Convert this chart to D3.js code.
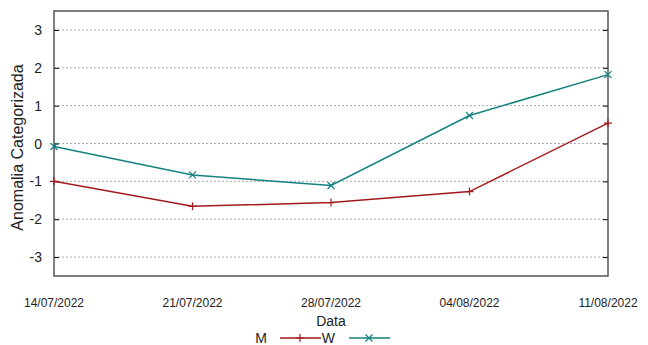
<!DOCTYPE html>
<html>
<head>
<meta charset="utf-8">
<script src="https://cdn.jsdelivr.net/npm/d3@7"></script>
<style>
  body { margin: 0; background: #fff; }
  svg { font-family: "Liberation Sans", Arial, sans-serif; }
</style>
</head>
<body>
<svg id="chart" width="648" height="345"></svg>
<script>
// datas e valores
const datas = ["14/07/2022", "21/07/2022", "28/07/2022", "04/08/2022", "11/08/2022"]
const valoresM = [-1.0, -1.66, -1.56, -1.27, 0.54]
const valoresW = [-0.08, -0.83, -1.11, 0.74, 1.82]
const yTicks = [-3, -2, -1, 0, 1, 2, 3]

const corM = "#a31a1e"
const corW = "#138080"

let svg = d3.select("#chart")

let margin = { top: 11, right: 40, bottom: 69, left: 54 }
let width = 648, height = 345
let x = d3.scalePoint().domain(datas).range([margin.left, width - margin.right])
let y = d3.scaleLinear().domain([-3.5, 3.5]).range([height - margin.bottom, margin.top])

// grade pontilhada
svg.append("g")
  .selectAll("line")
  .data(yTicks)
  .enter().append("line")
  .attr("x1", margin.left).attr("x2", width - margin.right)
  .attr("y1", d => y(d)).attr("y2", d => y(d))
  .attr("stroke", "#aaa")
  .attr("stroke-width", 1)
  .attr("stroke-dasharray", "2,2")

// eixo y com ticks para dentro
let yAxis = svg.append("g")
  .attr("transform", `translate(${margin.left},0)`)
  .call(d3.axisRight(y).tickValues(yTicks).tickSize(5).tickFormat(""))
yAxis.select(".domain").remove()
let yAxisR = svg.append("g")
  .attr("transform", `translate(${width - margin.right},0)`)
  .call(d3.axisLeft(y).tickValues(yTicks).tickSize(5).tickFormat(""))
yAxisR.select(".domain").remove()

svg.append("g")
  .selectAll("text")
  .data(yTicks)
  .enter().append("text")
  .attr("x", 42)
  .attr("y", d => y(d))
  .attr("dy", "0.36em")
  .attr("text-anchor", "end")
  .attr("font-size", 14)
  .attr("fill", "#222")
  .text(d => d)

// moldura
svg.append("rect")
  .attr("x", margin.left).attr("y", margin.top)
  .attr("width", width - margin.left - margin.right)
  .attr("height", height - margin.top - margin.bottom)
  .attr("fill", "none")
  .attr("stroke", "#555")
  .attr("stroke-width", 1.5)

// rotulos do eixo x
svg.append("g")
  .selectAll("text")
  .data(datas)
  .enter().append("text")
  .attr("x", d => x(d))
  .attr("y", 307)
  .attr("text-anchor", "middle")
  .attr("font-size", 12)
  .attr("fill", "#222")
  .text(d => d)

svg.append("text")
  .attr("x", (margin.left + width - margin.right) / 2)
  .attr("y", 326)
  .attr("text-anchor", "middle")
  .attr("font-size", 14)
  .attr("fill", "#222")
  .text("Data")

svg.append("text")
  .attr("transform", `translate(23,${y(0) + 4}) rotate(-90)`)
  .attr("text-anchor", "middle")
  .attr("font-size", 16)
  .attr("fill", "#222")
  .text("Anomalia Categorizada")

// linhas
let line = d3.line()
  .x((d, i) => x(datas[i]))
  .y(d => y(d))

function plusMark(g, px, py, cor) {
  g.append("path")
    .attr("d", `M${px - 4},${py}H${px + 4}M${px},${py - 4}V${py + 4}`)
    .attr("stroke", cor).attr("stroke-width", 1.2)
}
function crossMark(g, px, py, cor) {
  g.append("path")
    .attr("d", `M${px - 3.5},${py - 3.5}L${px + 3.5},${py + 3.5}M${px - 3.5},${py + 3.5}L${px + 3.5},${py - 3.5}`)
    .attr("stroke", cor).attr("stroke-width", 1.2)
}

let gM = svg.append("g")
gM.append("path")
  .datum(valoresM)
  .attr("d", line)
  .attr("fill", "none")
  .attr("stroke", corM)
  .attr("stroke-width", 1.5)
valoresM.forEach((v, i) => plusMark(gM, x(datas[i]), y(v), corM))

let gW = svg.append("g")
gW.append("path")
  .datum(valoresW)
  .attr("d", line)
  .attr("fill", "none")
  .attr("stroke", corW)
  .attr("stroke-width", 1.5)
valoresW.forEach((v, i) => crossMark(gW, x(datas[i]), y(v), corW))

// legenda
let leg = svg.append("g")
leg.append("text").attr("x", 267).attr("y", 343).attr("text-anchor", "end")
  .attr("font-size", 14).attr("fill", "#222").text("M")
leg.append("line").attr("x1", 280).attr("x2", 321).attr("y1", 338).attr("y2", 338)
  .attr("stroke", corM).attr("stroke-width", 1.5)
plusMark(leg, 300, 338, corM)
leg.append("text").attr("x", 335).attr("y", 343).attr("text-anchor", "end")
  .attr("font-size", 14).attr("fill", "#222").text("W")
leg.append("line").attr("x1", 349).attr("x2", 390).attr("y1", 338).attr("y2", 338)
  .attr("stroke", corW).attr("stroke-width", 1.5)
crossMark(leg, 369, 338, corW)
</script>
</body>
</html>
